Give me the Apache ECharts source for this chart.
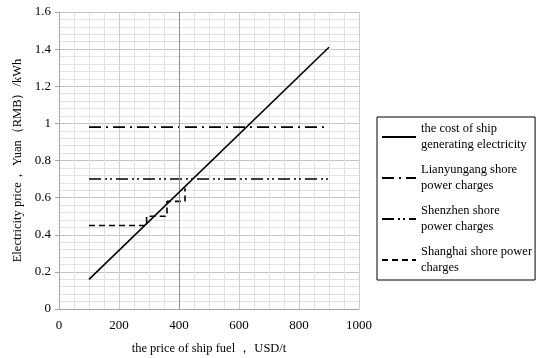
<!DOCTYPE html>
<html>
<head>
<meta charset="utf-8">
<script src="https://cdn.jsdelivr.net/npm/echarts@6/dist/echarts.min.js"></script>
<style>
  html, body { margin: 0; padding: 0; background: #fff; }
  #myChart { width: 537px; height: 358px; }
</style>
</head>
<body>
<div id="myChart"></div>
<script>
// data
var xTicks = [0, 200, 400, 600, 800, 1000];
var yTicks = [0, 0.2, 0.4, 0.6, 0.8, 1, 1.2, 1.4, 1.6];
var costLine = [[100, 0.16], [900, 1.41]];
var lianyungang = [[100, 0.98], [900, 0.98]];
var shenzhen = [[100, 0.70], [900, 0.70]];
var shanghai = [[100, 0.45], [292, 0.45], [292, 0.50], [360, 0.50], [360, 0.58], [420, 0.58], [420, 0.65]];
var seriesNames = [
  'the cost of ship\ngenerating electricity',
  'Lianyungang shore\npower charges',
  'Shenzhen shore\npower charges',
  'Shanghai shore power\ncharges'
];

var serif = '"Liberation Serif", "DejaVu Serif", serif';

var chart = echarts.init(document.getElementById('myChart'));
var option = {
  animation: false,
  backgroundColor: '#fff',
  grid: { left: 59, right: 178, top: 12, bottom: 49, outerBoundsMode: 'none' },
  legend: {
    orient: 'vertical',
    left: 377,
    top: 117,
    padding: [4, 3, 4, 4],
    itemGap: 9,
    itemWidth: 34,
    itemHeight: 12,
    borderColor: '#000',
    borderWidth: 1,
    borderRadius: 0,
    itemStyle: { opacity: 0 },
    textStyle: { fontFamily: serif, fontSize: 12.5, color: '#000', lineHeight: 16 },
    data: seriesNames
  },
  xAxis: {
    type: 'value',
    min: xTicks[0],
    max: xTicks[xTicks.length - 1],
    interval: 200,
    name: 'the price of ship fuel ， USD/t',
    nameLocation: 'middle',
    nameGap: 33,
    nameTextStyle: { fontFamily: serif, fontSize: 12.5, color: '#000' },
    axisLine: { show: true, lineStyle: { color: '#a6a6a6' } },
    axisTick: { show: false },
    axisLabel: { fontFamily: serif, fontSize: 13, color: '#000', margin: 10, formatter: function (v) { return String(v); } },
    splitLine: { show: true, lineStyle: { color: '#cecece', width: 1 } },
    minorTick: { show: false, splitNumber: 4 },
    minorSplitLine: { show: true, lineStyle: { color: '#e2e2e2', width: 1 } }
  },
  yAxis: {
    type: 'value',
    min: yTicks[0],
    max: yTicks[yTicks.length - 1],
    interval: 0.2,
    name: 'Electricity price， Yuan（RMB）/kWh',
    nameLocation: 'middle',
    nameGap: 35,
    nameTextStyle: { fontFamily: serif, fontSize: 12.5, color: '#000' },
    axisLine: { show: true, lineStyle: { color: '#a6a6a6' } },
    axisTick: { show: true, length: 4, lineStyle: { color: '#a6a6a6' } },
    axisLabel: { fontFamily: serif, fontSize: 13, color: '#000', margin: 8 },
    splitLine: { show: true, lineStyle: { color: '#c4c4c4', width: 1 } },
    minorTick: { show: false, splitNumber: 5 },
    minorSplitLine: { show: true, lineStyle: { color: '#e2e2e2', width: 1 } }
  },
  series: [
    {
      name: seriesNames[0],
      type: 'line',
      data: costLine,
      symbol: 'none',
      lineStyle: { color: '#000', width: 1.6, type: 'solid' },
      itemStyle: { color: '#000' },
      z: 5,
      markLine: {
        silent: true,
        symbol: 'none',
        label: { show: false },
        lineStyle: { color: '#8c8c8c', width: 1, type: 'solid' },
        data: [{ xAxis: 400 }]
      }
    },
    {
      name: seriesNames[1],
      type: 'line',
      data: lianyungang,
      symbol: 'none',
      lineStyle: { color: '#000', width: 1.6, type: [12, 5, 2, 5] },
      itemStyle: { color: '#000' }
    },
    {
      name: seriesNames[2],
      type: 'line',
      data: shenzhen,
      symbol: 'none',
      lineStyle: { color: '#000', width: 1.6, type: [12, 4, 2, 3, 2, 4] },
      itemStyle: { color: '#000' }
    },
    {
      name: seriesNames[3],
      type: 'line',
      data: shanghai,
      symbol: 'none',
      lineStyle: { color: '#000', width: 1.6, type: [6, 4] },
      itemStyle: { color: '#000' }
    }
  ]
};
chart.setOption(option);
window.addEventListener('resize', function () { chart.resize(); });
</script>
</body>
</html>
